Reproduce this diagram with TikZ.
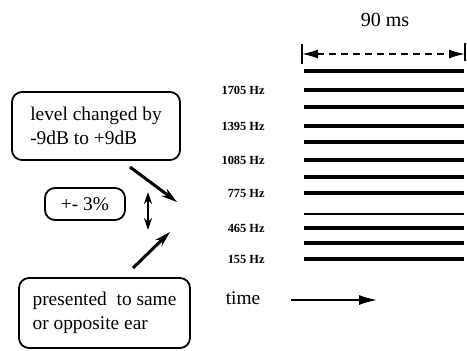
\documentclass[tikz,border=0pt]{standalone}
\usepackage{fontspec}
\setmainfont{Liberation Serif}
\usetikzlibrary{arrows.meta}

\begin{document}
\begin{tikzpicture}[
  x=0.5pt, y=-0.5pt,
  >=Latex,
  box/.style={draw, rounded corners=5pt, line width=0.9pt, align=left,
              font=\fontsize{9.7}{12}\selectfont, inner sep=0pt},
  freq/.style={font=\fontsize{6.2}{7}\selectfont\bfseries, anchor=east, inner sep=0pt},
  lbl/.style={font=\fontsize{9.7}{12}\selectfont, inner sep=0pt},
  tone/.style={line width=1.7pt},
  ar/.style={-{Stealth[length=8pt,width=4.5pt]}, line width=1.5pt},
]
\useasboundingbox (0,0) rectangle (467,350);

% ===================== left: manipulations =====================
\node[box, minimum width=84pt, minimum height=34pt] (lvl) at (96,126)
  {level changed by\\-9dB to +9dB};
\node[box, minimum width=40pt, minimum height=16pt, align=center] (pct) at (85,204) {+- 3\%};
\node[box, minimum width=85.5pt, minimum height=35pt] (ear) at (104.5,313)
  {presented\ \ to same\\or opposite ear};

\coordinate (lvlA) at (130,167); \coordinate (lvlB) at (177,202);
\coordinate (earA) at (133,268); \coordinate (earB) at (170,232);
\coordinate (pctA) at (148,192); \coordinate (pctB) at (148,230);
\draw[ar] (lvlA)--(lvlB);
\draw[ar] (earA)--(earB);
\draw[{Stealth[length=6pt,width=4pt]}-{Stealth[length=6pt,width=4pt]}, line width=0.9pt]
  (pctA)--(pctB);

% ===================== right: tone complex =====================
\node[font=\fontsize{10}{12}\selectfont] (dur) at (385,20) {90 ms};
\coordinate (durL) at (302,54); \coordinate (durR) at (465,54);
\draw[line width=0.9pt] (302,44)--(302,64);
\draw[line width=0.9pt] (465,43)--(465,61);
\draw[{Latex[length=8pt,width=4.5pt]}-{Latex[length=8pt,width=4.5pt]}, line width=0.8pt,
      dash pattern=on 3.5pt off 2.5pt] (durL)--(durR);

\foreach \y/\w in {71/1.8, 90/1.9, 107/1.8, 126/1.9, 142/1.7, 160/1.9,
                   177/1.7, 193/1.9, 214/1.1, 228/1.9, 243/1.7, 259/1.9}
  \draw[tone, line width=\w pt] (304,\y)--(464,\y);

\foreach \f/\y in {1705/90, 1395/126, 1085/160, 775/193, 465/228, 155/259}
  \node[freq] (f\f) at (265,\y) {\f\ Hz};

\node[lbl] (time) at (243,298) {time};
\coordinate (timeA) at (291,300); \coordinate (timeB) at (377,300);
\draw[-{Latex[length=9pt,width=5pt]}, line width=0.7pt] (timeA)--(timeB);
\end{tikzpicture}
\end{document}
